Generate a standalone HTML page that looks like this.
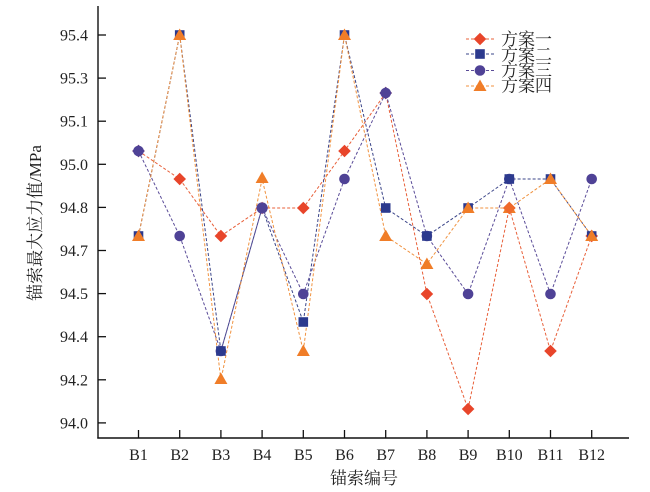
<!DOCTYPE html>
<html><head><meta charset="utf-8"><style>
html,body{margin:0;padding:0;background:#fff;}
svg{display:block;}
text{font-family:"Liberation Serif","Noto Serif CJK SC","Noto Sans CJK SC",serif;fill:#222;}
</style></head><body>
<svg width="650" height="492" viewBox="0 0 650 492" xmlns="http://www.w3.org/2000/svg">
<!-- axes -->
<line x1="98" y1="6" x2="98" y2="438.5" stroke="#111" stroke-width="1.4"/>
<line x1="97.3" y1="438" x2="629" y2="438" stroke="#111" stroke-width="1.4"/>
<g stroke="#111" stroke-width="1.3">
<line x1="98" y1="35" x2="106" y2="35"/>
<line x1="98" y1="78.1" x2="106" y2="78.1"/>
<line x1="98" y1="121.2" x2="106" y2="121.2"/>
<line x1="98" y1="164.3" x2="106" y2="164.3"/>
<line x1="98" y1="207.4" x2="106" y2="207.4"/>
<line x1="98" y1="250.5" x2="106" y2="250.5"/>
<line x1="98" y1="293.6" x2="106" y2="293.6"/>
<line x1="98" y1="336.7" x2="106" y2="336.7"/>
<line x1="98" y1="379.8" x2="106" y2="379.8"/>
<line x1="98" y1="422.9" x2="106" y2="422.9"/>
<line x1="138.5" y1="438" x2="138.5" y2="430"/>
<line x1="179.7" y1="438" x2="179.7" y2="430"/>
<line x1="220.9" y1="438" x2="220.9" y2="430"/>
<line x1="262.1" y1="438" x2="262.1" y2="430"/>
<line x1="303.3" y1="438" x2="303.3" y2="430"/>
<line x1="344.5" y1="438" x2="344.5" y2="430"/>
<line x1="385.7" y1="438" x2="385.7" y2="430"/>
<line x1="426.9" y1="438" x2="426.9" y2="430"/>
<line x1="468.1" y1="438" x2="468.1" y2="430"/>
<line x1="509.3" y1="438" x2="509.3" y2="430"/>
<line x1="550.5" y1="438" x2="550.5" y2="430"/>
<line x1="591.7" y1="438" x2="591.7" y2="430"/>
</g>
<g font-size="16" text-anchor="end">
<text x="88" y="40.5">95.4</text>
<text x="88" y="83.6">95.3</text>
<text x="88" y="126.7">95.1</text>
<text x="88" y="169.8">95.0</text>
<text x="88" y="212.9">94.8</text>
<text x="88" y="256">94.7</text>
<text x="88" y="299.1">94.5</text>
<text x="88" y="342.2">94.4</text>
<text x="88" y="385.3">94.2</text>
<text x="88" y="428.4">94.0</text>
</g>
<g font-size="16" text-anchor="middle">
<text x="138.5" y="460">B1</text>
<text x="179.7" y="460">B2</text>
<text x="220.9" y="460">B3</text>
<text x="262.1" y="460">B4</text>
<text x="303.3" y="460">B5</text>
<text x="344.5" y="460">B6</text>
<text x="385.7" y="460">B7</text>
<text x="426.9" y="460">B8</text>
<text x="468.1" y="460">B9</text>
<text x="509.3" y="460">B10</text>
<text x="550.5" y="460">B11</text>
<text x="591.7" y="460">B12</text>
</g>
<text x="364" y="484" font-size="17" text-anchor="middle">锚索编号</text>
<text transform="translate(41,223) rotate(-90)" font-size="17" text-anchor="middle">锚索最大应力值/MPa</text>

<!-- series lines -->
<g fill="none" stroke-width="1" stroke-dasharray="3,2">
<polyline stroke="#e8603a" points="138.5,151 179.7,179 220.9,236 262.1,208 303.3,208 344.5,151 385.7,93 426.9,294 468.1,409 509.3,208 550.5,351 591.7,236"/>
<polyline stroke="#3a4488" points="138.5,236 179.7,35 220.9,351 262.1,208 303.3,322 344.5,35 385.7,208 426.9,236 468.1,208 509.3,179 550.5,179 591.7,236"/>
<polyline stroke="#5a4c98" points="138.5,151 179.7,236 220.9,351 262.1,208 303.3,294 344.5,179 385.7,93 426.9,236 468.1,294 509.3,179 550.5,294 591.7,179"/>
<polyline stroke="#f0923f" points="138.5,236 179.7,35 220.9,380 262.1,179 303.3,351 344.5,35 385.7,236 426.9,264 468.1,208 509.3,208 550.5,179 591.7,236"/>
</g>

<defs>
<path id="dia" d="M0,-6.3 L6.3,0 L0,6.3 L-6.3,0Z"/>
<rect id="sq" x="-4.8" y="-4.8" width="9.6" height="9.6"/>
<circle id="ci" r="5.3"/>
<path id="tri" d="M0,-6.5 L6.5,5 L-6.5,5Z"/>
</defs>
<!-- diamonds -->
<g fill="#e8452a">
<use href="#dia" x="138.5" y="151"/><use href="#dia" x="179.7" y="179"/><use href="#dia" x="220.9" y="236"/><use href="#dia" x="262.1" y="208"/><use href="#dia" x="303.3" y="208"/><use href="#dia" x="344.5" y="151"/><use href="#dia" x="385.7" y="93"/><use href="#dia" x="426.9" y="294"/><use href="#dia" x="468.1" y="409"/><use href="#dia" x="509.3" y="208"/><use href="#dia" x="550.5" y="351"/><use href="#dia" x="591.7" y="236"/>
</g>
<!-- circles -->
<g fill="#4f4296">
<use href="#ci" x="138.5" y="151"/><use href="#ci" x="179.7" y="236"/><use href="#ci" x="220.9" y="351"/><use href="#ci" x="303.3" y="294"/><use href="#ci" x="344.5" y="179"/><use href="#ci" x="385.7" y="93"/><use href="#ci" x="426.9" y="236"/><use href="#ci" x="468.1" y="294"/><use href="#ci" x="509.3" y="179"/><use href="#ci" x="550.5" y="294"/><use href="#ci" x="591.7" y="179"/>
</g>
<!-- squares -->
<g fill="#2c3a8e">
<use href="#sq" x="138.5" y="236"/><use href="#sq" x="179.7" y="35"/><use href="#sq" x="220.9" y="351"/><use href="#sq" x="303.3" y="322"/><use href="#sq" x="344.5" y="35"/><use href="#sq" x="385.7" y="208"/><use href="#sq" x="426.9" y="236"/><use href="#sq" x="468.1" y="208"/><use href="#sq" x="509.3" y="179"/><use href="#sq" x="550.5" y="179"/><use href="#sq" x="591.7" y="236"/>
</g>
<!-- triangles -->
<g fill="#f07d28">
<use href="#tri" x="138.5" y="236"/><use href="#tri" x="179.7" y="35"/><use href="#tri" x="220.9" y="379"/><use href="#tri" x="262.1" y="178"/><use href="#tri" x="303.3" y="351"/><use href="#tri" x="344.5" y="35"/><use href="#tri" x="385.7" y="236"/><use href="#tri" x="426.9" y="264"/><use href="#tri" x="468.1" y="208"/><use href="#tri" x="509.3" y="208"/><use href="#tri" x="550.5" y="179"/><use href="#tri" x="591.7" y="236"/>
</g>
<!-- purple overlays -->
<g fill="#4f4296">
<use href="#dia" x="138.5" y="151"/><use href="#dia" x="385.7" y="93"/>
<circle cx="262.1" cy="208" r="5.6"/>
</g>
<use href="#dia" x="509.3" y="208" fill="#ef6a2c"/>

<!-- legend -->
<g fill="none" stroke-width="1" stroke-dasharray="3,2">
<line x1="466" y1="39" x2="494" y2="39" stroke="#e8603a"/>
<line x1="466" y1="54" x2="494" y2="54" stroke="#3a4488"/>
<line x1="466" y1="70.5" x2="494" y2="70.5" stroke="#5a4c98"/>
<line x1="466" y1="86" x2="494" y2="86" stroke="#f0923f"/>
</g>
<use href="#dia" x="480" y="39" fill="#e8452a"/>
<use href="#sq" x="480" y="54" fill="#2c3a8e"/>
<use href="#ci" x="480" y="70.5" fill="#4f4296"/>
<use href="#tri" x="480" y="86" fill="#f07d28"/>
<g font-size="17">
<text x="501" y="45">方案一</text>
<text x="501" y="60.5">方案二</text>
<text x="501" y="76">方案三</text>
<text x="501" y="91.5">方案四</text>
</g>
</svg>
</body></html>
